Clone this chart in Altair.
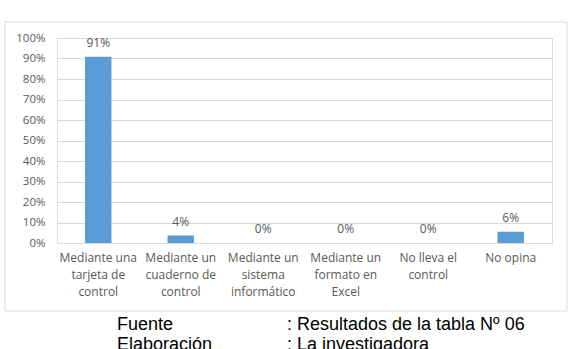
import altair as alt
import pandas as pd

categories = [
    "Mediante una\ntarjeta de\ncontrol",
    "Mediante un\ncuaderno de\ncontrol",
    "Mediante un\nsistema\ninformático",
    "Mediante un\nformato en\nExcel",
    "No lleva el\ncontrol",
    "No opina",
]
values = [0.909, 0.036, 0.0, 0.0, 0.0, 0.055]
y_ticks = [0.0, 0.1, 0.2, 0.3, 0.4, 0.5, 0.6, 0.7, 0.8, 0.9, 1.0]
footer_left = ["Fuente", "Elaboración"]
footer_right = [": Resultados de la tabla Nº 06", ": La investigadora"]

df = pd.DataFrame({"cat": categories, "val": values})

W, H = 495, 205
FONT = "Open Sans"
GRAY = "#595959"

x_axis = alt.Axis(labelAngle=0, labelExpr="split(datum.label, '\\n')",
                  labelFont=FONT, labelFontSize=12, labelColor=GRAY,
                  labelLineHeight=17, labelPadding=9, ticks=False,
                  domain=True, domainColor="#d9d9d9", labelBaseline="top")
y_axis = alt.Axis(format=".0%", values=y_ticks, labelOverlap=False, tickCount=20,
                  labelFont=FONT, labelFontSize=11.5, labelColor=GRAY,
                  ticks=False, domain=False, labelPadding=12,
                  gridColor="#d9d9d9", gridWidth=1)
x_enc = alt.X("cat:N", sort=categories, title=None,
              scale=alt.Scale(paddingInner=0.68, paddingOuter=0.34), axis=x_axis)
y_enc = alt.Y("val:Q", title=None, scale=alt.Scale(domain=[0, 1]), axis=y_axis)

box = alt.Chart(pd.DataFrame({"a": [0]})).mark_rect(
    fillOpacity=0, stroke="#d9d9d9", strokeWidth=1
).encode(x=alt.value(-52), x2=alt.value(510), y=alt.value(-16), y2=alt.value(273))

bars = alt.Chart(df).mark_bar(color="#5b9bd5").encode(x=x_enc, y=y_enc)

labels = alt.Chart(df).mark_text(
    font=FONT, fontSize=12, color=GRAY, baseline="middle", dy=-14
).encode(
    x=x_enc,
    y=y_enc,
    text=alt.Text("val:Q", format=".0%"),
)

footer_layers = []
for i in range(2):
    fdf = pd.DataFrame({"l": [footer_left[i]], "r": [footer_right[i]]})
    base = alt.Chart(fdf).mark_text(
        font="Liberation Sans", fontSize=18, color="black", align="left", baseline="alphabetic"
    )
    footer_layers.append(base.encode(x=alt.value(60), y=alt.value(292 + 20 * i), text="l:N"))
    footer_layers.append(base.encode(x=alt.value(230), y=alt.value(292 + 20 * i), text="r:N"))

chart = alt.layer(box, bars, labels, *footer_layers).properties(
    width=W, height=H,
    autosize=alt.AutoSizeParams(type="none"),
    padding={"left": 57, "top": 38, "right": 21, "bottom": 106},
).configure_view(stroke=None).configure(background="white")

chart.save("out.html", embed_options={"renderer": "svg", "actions": False})
